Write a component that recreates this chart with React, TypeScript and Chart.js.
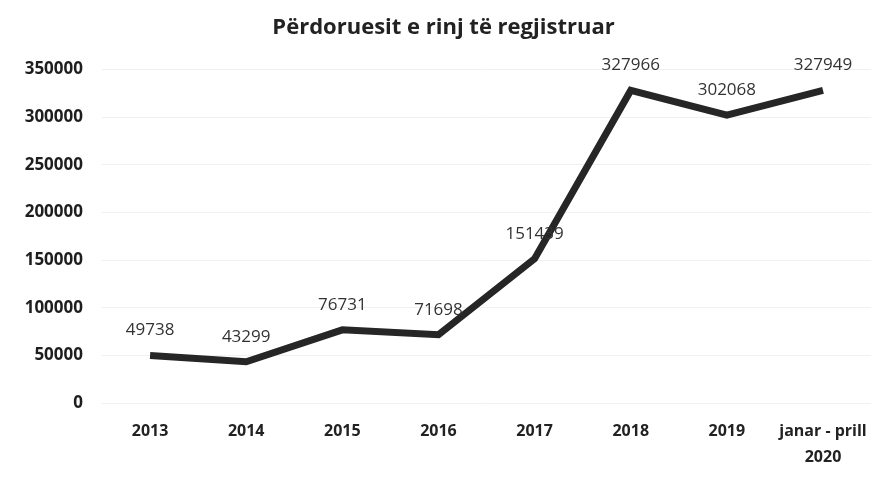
import React, { useEffect, useRef } from "react";
import { Chart, registerables } from "chart.js";

Chart.register(...registerables);

const TITLE = "Përdoruesit e rinj të regjistruar";
const CATEGORIES: (string | string[])[] = ["2013", "2014", "2015", "2016", "2017", "2018", "2019", ["janar - prill", "2020"]];
const USERS = [49738, 43299, 76731, 71698, 151439, 327966, 302068, 327949];
const Y_MIN = 0;
const Y_MAX = 350000;
const Y_STEP = 50000;

const FONT = "'Open Sans', 'Noto Sans', sans-serif";

const valueLabels = {
  id: "valueLabels",
  afterDatasetsDraw(chart: any) {
    const ctx = chart.ctx;
    const meta = chart.getDatasetMeta(0);
    const data = chart.data.datasets[0].data as number[];
    ctx.save();
    ctx.font = `17px ${FONT}`;
    ctx.fillStyle = "#333333";
    ctx.textAlign = "center";
    ctx.textBaseline = "middle";
    meta.data.forEach((pt: any, i: number) => {
      ctx.fillText(String(data[i]), pt.x, pt.y - 25);
    });
    ctx.restore();
  },
};

export default function App() {
  const ref = useRef<HTMLCanvasElement | null>(null);
  useEffect(() => {
    if (!ref.current) return;
    const chart = new Chart(ref.current, {
      type: "line",
      data: {
        labels: CATEGORIES as any,
        datasets: [
          {
            data: USERS,
            borderColor: "#262626",
            borderWidth: 7,
            borderCapStyle: "butt",
            borderJoinStyle: "miter",
            pointRadius: 0,
            tension: 0,
            fill: false,
          },
        ],
      },
      options: {
        animation: false,
        responsive: true,
        maintainAspectRatio: false,
        layout: { padding: { left: 0, right: 4, top: 0, bottom: 0 } },
        plugins: {
          legend: { display: false },
          tooltip: { enabled: false },
          title: {
            display: true,
            text: TITLE,
            color: "#222222",
            font: { family: FONT, size: 22, weight: "bold", lineHeight: 1.2 },
            padding: { top: 7, bottom: 28 },
          },
        },
        scales: {
          x: {
            offset: true,
            grid: { display: false, drawTicks: false },
            border: { display: false },
            ticks: {
              color: "#222222",
              font: { family: FONT, size: 16, weight: "bold", lineHeight: 1.6 },
              padding: 16,
              maxRotation: 0,
              autoSkip: false,
            },
            afterFit: (s: any) => {
              s.height = 67;
            },
          },
          y: {
            min: Y_MIN,
            max: Y_MAX,
            grid: { color: "#f0f0f0", drawTicks: false, lineWidth: 1 },
            border: { display: false },
            ticks: {
              stepSize: Y_STEP,
              color: "#1e1e1e",
              font: { family: FONT, size: 17, weight: "bold" },
              padding: 19,
              callback: (v: any) => String(v),
            },
            afterFit: (s: any) => {
              s.width = 94;
            },
          },
        },
      },
      plugins: [valueLabels],
    });
    return () => chart.destroy();
  }, []);
  return (
    <div style={{ width: 875, height: 462, position: "relative" }}>
      <canvas ref={ref} />
    </div>
  );
}
